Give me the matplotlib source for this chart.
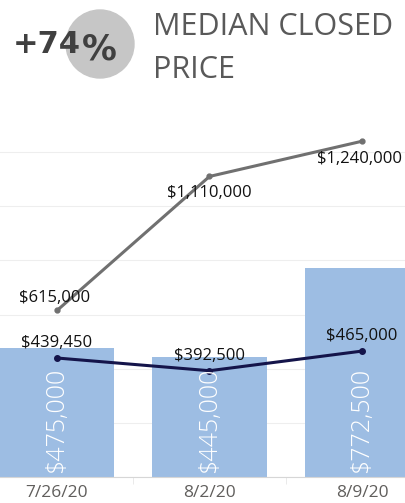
import matplotlib.pyplot as plt
from matplotlib.patches import Ellipse

dates = ["7/26/20", "8/2/20", "8/9/20"]
bar_values = [475000, 445000, 772500]
gray_values = [615000, 1110000, 1240000]
navy_values = [439450, 392500, 465000]

W, H = 406, 503
fig = plt.figure(figsize=(W / 100, H / 100), dpi=100)

ax = fig.add_axes([0, 26 / H, 1, 352 / H])
x = list(range(len(dates)))

ax.bar(x, bar_values, width=0.75, color="#9DBDE3", zorder=2)
ax.plot(x, navy_values, color="#14144A", lw=2.2, marker="o", ms=4, zorder=3)
ax.plot(x, gray_values, color="#707070", lw=2.2, marker="o", ms=3.5, zorder=3)

for xi, v in zip(x, bar_values):
    ax.text(xi, 14000, f"${v:,.0f}", rotation=90, ha="center", va="bottom",
            color="white", fontsize=18, family="Open Sans", fontweight="light", zorder=4)

for xi, v in zip(x, navy_values):
    ax.annotate(f"${v:,.0f}", (xi, v), xytext=(0, 15), textcoords="offset pixels",
                ha="center", va="center", fontsize=12, family="Open Sans", color="#111111", zorder=5)

gray_offsets = [(-2, 12), (0, -17), (-2, -18)]
for xi, v, off in zip(x, gray_values, gray_offsets):
    ax.annotate(f"${v:,.0f}", (xi, v), xytext=off, textcoords="offset pixels",
                ha="center", va="center", fontsize=12, family="Open Sans", color="#111111", zorder=5)

ax.set_xlim(-0.374, 2.289)
ax.set_ylim(0, 1300000)
ax.set_yticks(range(0, 1300001, 200000))
ax.grid(axis="y", color="#EEEEEE", lw=0.8, zorder=0)
ax.set_axisbelow(True)
ax.tick_params(axis="y", left=False, labelleft=False)
ax.set_xticks(x)
ax.set_xticklabels(dates, fontsize=12.5, family="Open Sans", color="#605E5C")
ax.tick_params(axis="x", length=0, pad=6)
ax.set_xticks([0.5, 1.5], minor=True)
ax.tick_params(axis="x", which="minor", length=5, color="#E6E6E6")
for s in ["top", "left", "right"]:
    ax.spines[s].set_visible(False)
ax.spines["bottom"].set_color("#D6D6D6")

fig.add_artist(Ellipse((100 / W, 1 - 44 / H), 68 / W, 68 / H,
                       transform=fig.transFigure, color="#C6C6C6", zorder=1))
fig.text(13 / W, 1 - 53 / H, "+74", fontsize=22, fontweight="bold",
         color="#404040", va="baseline", ha="left", zorder=2)
fig.text(82 / W, 1 - 59 / H, "%", fontsize=25, fontweight="bold",
         color="#404040", va="baseline", ha="left", zorder=2)
fig.text(153 / W, 1 - 35 / H, "MEDIAN CLOSED", fontsize=22, family="Open Sans",
         color="#595959", va="baseline", ha="left")
fig.text(153 / W, 1 - 78 / H, "PRICE", fontsize=22, family="Open Sans",
         color="#595959", va="baseline", ha="left")

fig.savefig("out.png", dpi=100)
